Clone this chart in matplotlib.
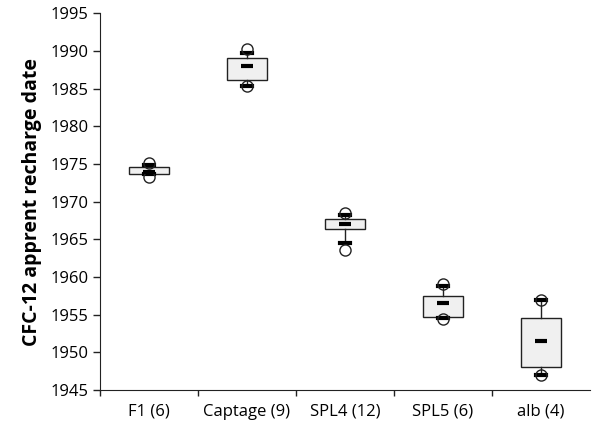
import matplotlib
matplotlib.use("Agg")
import matplotlib.pyplot as plt
import numpy as np

plt.rcParams['font.family'] = ['Open Sans', 'DejaVu Sans']

# data
groups = ['F1 (6)', 'Captage (9)', 'SPL4 (12)', 'SPL5 (6)', 'alb (4)']
q1 = [1973.65, 1986.2, 1966.4, 1954.7, 1948.0]
q3 = [1974.6, 1989.1, 1967.7, 1957.5, 1954.5]
means = [1973.9, 1988.0, 1967.0, 1956.5, 1951.5]
whis_lo = [1973.7, 1985.4, 1964.5, 1954.5, 1947.0]
whis_hi = [1974.9, 1989.7, 1968.3, 1958.85, 1956.9]
out_lo = [1973.3, 1985.4, 1963.6, 1954.4, 1947.0]
out_hi = [1975.1, 1990.25, 1968.55, 1959.1, 1957.0]

stats = []
for i in range(len(groups)):
    stats.append({'q1': q1[i], 'q3': q3[i], 'med': means[i], 'mean': means[i],
                  'whislo': whis_lo[i], 'whishi': whis_hi[i],
                  'fliers': [out_lo[i], out_hi[i]]})

fig = plt.figure(figsize=(5.93, 4.28), dpi=100)
ax = fig.add_axes([0.1686, 0.0888, 0.8264, 0.8797])

pos = np.arange(1, len(groups) + 1)
ax.bxp(stats, positions=pos, widths=0.4, patch_artist=True, showmeans=False,
       capwidths=0.1,
       boxprops=dict(facecolor='#f0f0f0', edgecolor='#222222', linewidth=1.0),
       whiskerprops=dict(color='#222222', linewidth=1.0),
       capprops=dict(color='black', linewidth=3),
       medianprops=dict(linewidth=0),
       flierprops=dict(marker='o', markersize=8, markerfacecolor='none',
                       markeredgecolor='#222222', markeredgewidth=1.0))

# mean dashes
ax.plot(pos, means, linestyle='none', marker='_', markersize=9,
        markeredgewidth=3, color='black')

ax.set_xlim(0.5, len(groups) + 0.5)
ax.set_ylim(1945, 1995)
ax.set_yticks(np.arange(1945, 1996, 5))
ax.set_xticks(np.arange(0.5, len(groups) + 0.5, 1))
ax.set_xticklabels([])
ax.set_xticks(pos, minor=True)
ax.set_xticklabels(groups, minor=True, fontsize=12)
ax.tick_params(axis='x', which='minor', length=0, pad=10)
ax.tick_params(axis='x', which='major', length=4, width=1, color='#222222')
ax.tick_params(axis='y', length=5, width=1, color='#222222', labelsize=12)

for s in ['top', 'right']:
    ax.spines[s].set_visible(False)
for s in ['left', 'bottom']:
    ax.spines[s].set_color('#222222')

ax.set_ylabel('CFC-12 apprent recharge date', fontsize=14, fontweight='bold',
              labelpad=6)

fig.savefig('out.png', dpi=100)
